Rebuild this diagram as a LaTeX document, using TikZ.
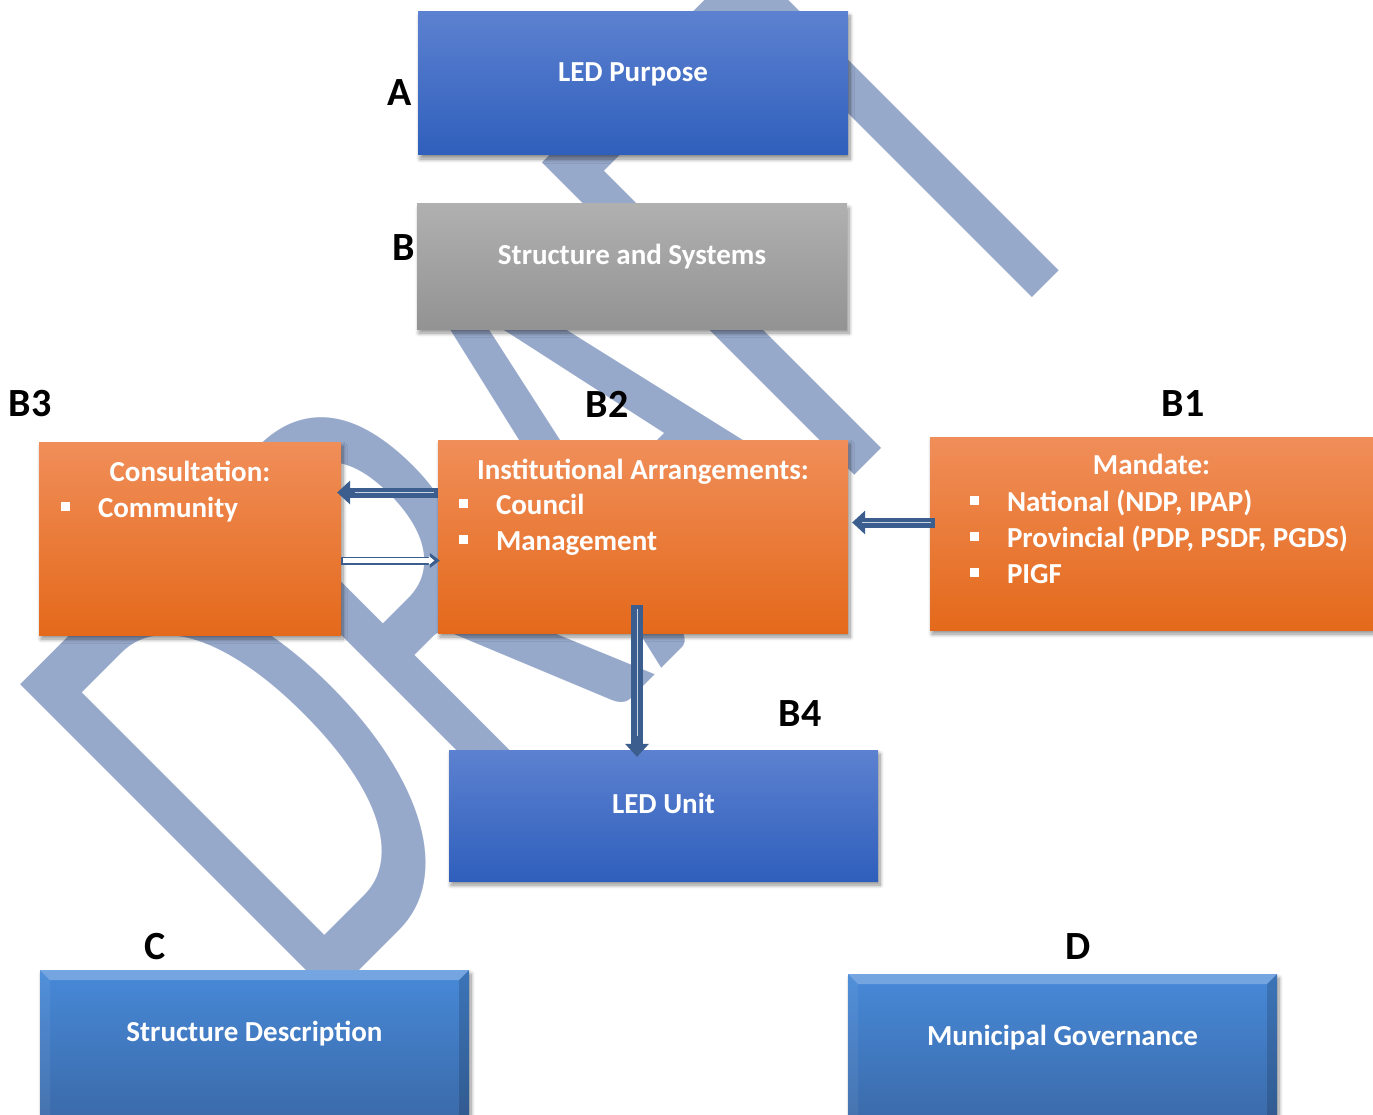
\documentclass[tikz,border=0pt]{standalone}
\usepackage{fontspec}
\setmainfont{Carlito}
\usetikzlibrary{arrows.meta,shadows.blur}
\definecolor{wmblue}{HTML}{97A9CB}
\definecolor{ledtop}{HTML}{5C81D0}
\definecolor{ledbot}{HTML}{2F5FBC}
\definecolor{greytop}{HTML}{B0B0B0}
\definecolor{greybot}{HTML}{939393}
\definecolor{ortop}{HTML}{F08E59}
\definecolor{ormid}{HTML}{F47C2F}
\definecolor{orbot}{HTML}{E4691B}
\definecolor{bevtop}{HTML}{4789D8}
\definecolor{bevbot}{HTML}{3A68A6}
\definecolor{arrblue}{HTML}{3B5E8F}
\definecolor{arrline}{HTML}{C9D3E3}
\newcommand\bul{\makebox[37pt][l]{\rule[7pt]{9pt}{9pt}}}
\tikzset{
  boxfont/.style={font=\bfseries\fontsize{29}{35}\selectfont, text=white},
  boxshadow/.style={blur shadow={shadow xshift=2pt, shadow yshift=-4pt, shadow blur radius=4pt, shadow blur steps=8, shadow opacity=45}},
  plainbox/.style={rectangle, inner sep=0pt, boxfont, boxshadow, text height=20pt, text depth=24pt},
  orbox/.style={rectangle, inner sep=0pt, boxshadow, minimum height=193pt,
    top color=ortop, middle color=ormid, bottom color=orbot},
  bevelbox/.style={rectangle, inner sep=0pt, boxfont, boxshadow, text height=20pt, text depth=38pt,
    minimum width=429pt, minimum height=160pt, top color=bevtop, bottom color=bevbot,
    path picture={
      \fill[white, fill opacity=.25] (path picture bounding box.north west) -- (path picture bounding box.north east)
        -- ([xshift=-10pt,yshift=-10pt]path picture bounding box.north east) -- ([xshift=10pt,yshift=-10pt]path picture bounding box.north west) -- cycle;
      \fill[white, fill opacity=.06] (path picture bounding box.north west) -- ([xshift=10pt,yshift=-10pt]path picture bounding box.north west)
        -- ([xshift=10pt]path picture bounding box.south west) -- (path picture bounding box.south west) -- cycle;
      \fill[black, fill opacity=.15] (path picture bounding box.north east) -- ([xshift=-10pt,yshift=-10pt]path picture bounding box.north east)
        -- ([xshift=-10pt]path picture bounding box.south east) -- (path picture bounding box.south east) -- cycle;
    }},
  boxtitle/.style={boxfont, anchor=base, inner sep=0pt},
  item/.style={boxfont, anchor=base west, inner sep=0pt},
  tag/.style={font=\bfseries\fontsize{40}{40}\selectfont, inner sep=0pt},
  wmark/.style={rotate=45, yscale=1.62, anchor=base west, inner sep=0pt, text=wmblue, font=\fontsize{425}{425}\selectfont},
  fatarrow/.style={draw=arrblue, line width=10pt, -{Triangle[length=13pt,width=24pt,line width=0pt]},
    postaction={draw=arrline, line width=1pt, -, shorten <=4pt, shorten >=14pt}},
  openarrow/.style={draw=arrblue, line width=8pt, -{Triangle[length=10pt,width=15pt,line width=0pt]},
    postaction={draw=white, line width=4.5pt, shorten <=2pt, shorten >=3.5pt, -{Triangle[length=5.5pt,width=9pt,line width=0pt]}}}
}
\begin{document}
\begin{tikzpicture}[x=1pt,y=-1pt]
  \useasboundingbox (0,0) rectangle (1373,1115);
  \node[wmark] (draft) at (312,1018) {DRAFT};

  \node[plainbox, top color=ledtop, bottom color=ledbot, minimum width=430pt, minimum height=143pt] (a) at (633,83.5) {LED Purpose};
  \node[plainbox, top color=greytop, bottom color=greybot, minimum width=430pt, minimum height=125pt] (b) at (632,266.5) {Structure and Systems};
  \node[orbox, minimum width=302pt] (b3) at (190,538.5) {};
  \node[orbox, minimum width=410pt] (b2) at (643,536.5) {};
  \node[orbox, minimum width=443pt] (b1) at (1151.5,533.5) {};
  \node[plainbox, top color=ledtop, bottom color=ledbot, minimum width=429pt, minimum height=131pt] (b4) at (663.5,815.5) {LED Unit};
  \node[bevelbox] (c) at (254.5,1050) {Structure Description};
  \node[bevelbox] (d) at (1062.5,1054) {Municipal Governance};

  \node[boxtitle] (b3t) at ([yshift=-40pt]b3.north) {Consultation:};
  \node[item] (b3i) at ([xshift=22pt,yshift=-76pt]b3.north west) {\bul Community};
  \node[boxtitle] (b2t) at ([yshift=-40pt]b2.north) {Institutional Arrangements:};
  \node[item] (b2i1) at ([xshift=21pt,yshift=-75pt]b2.north west) {\bul Council};
  \node[item] (b2i2) at ([xshift=21pt,yshift=-111pt]b2.north west) {\bul Management};
  \node[boxtitle] (b1t) at ([yshift=-38pt]b1.north) {Mandate:};
  \node[item] (b1i1) at ([xshift=40pt,yshift=-75pt]b1.north west) {\bul National (NDP, IPAP)};
  \node[item] (b1i2) at ([xshift=40pt,yshift=-111pt]b1.north west) {\bul Provincial (PDP, PSDF, PGDS)};
  \node[item] (b1i3) at ([xshift=40pt,yshift=-147pt]b1.north west) {\bul PIGF};

  \node[tag] (ta) at (400,93) {A};
  \node[tag] (tb) at (404,248) {B};
  \node[tag] (tb3) at (30,404) {B3};
  \node[tag] (tb2) at (607,404) {B2};
  \node[tag] (tb1) at (1183,404) {B1};
  \node[tag] (tb4) at (800,714) {B4};
  \node[tag] (tc) at (155,947) {C};
  \node[tag] (td) at (1078,947) {D};

  \coordinate (l1) at ([yshift=44pt]b2.west);
  \draw[fatarrow, shorten >=-4pt] (l1) -- (l1 -| b3.east);
  \coordinate (l2) at ([yshift=-22pt]b3.east);
  \draw[openarrow, shorten >=-2pt] (l2) -- (l2 -| b2.west);
  \coordinate (r1) at ([xshift=5pt,yshift=11pt]b1.west);
  \draw[fatarrow, shorten >=4pt] (r1) -- (r1 -| b2.east);
  \coordinate (m1) at ([xshift=-6pt,yshift=28pt]b2.south);
  \draw[fatarrow, line width=12pt, shorten >=-7pt] (m1) -- (m1 |- b4.north);
\end{tikzpicture}
\end{document}
